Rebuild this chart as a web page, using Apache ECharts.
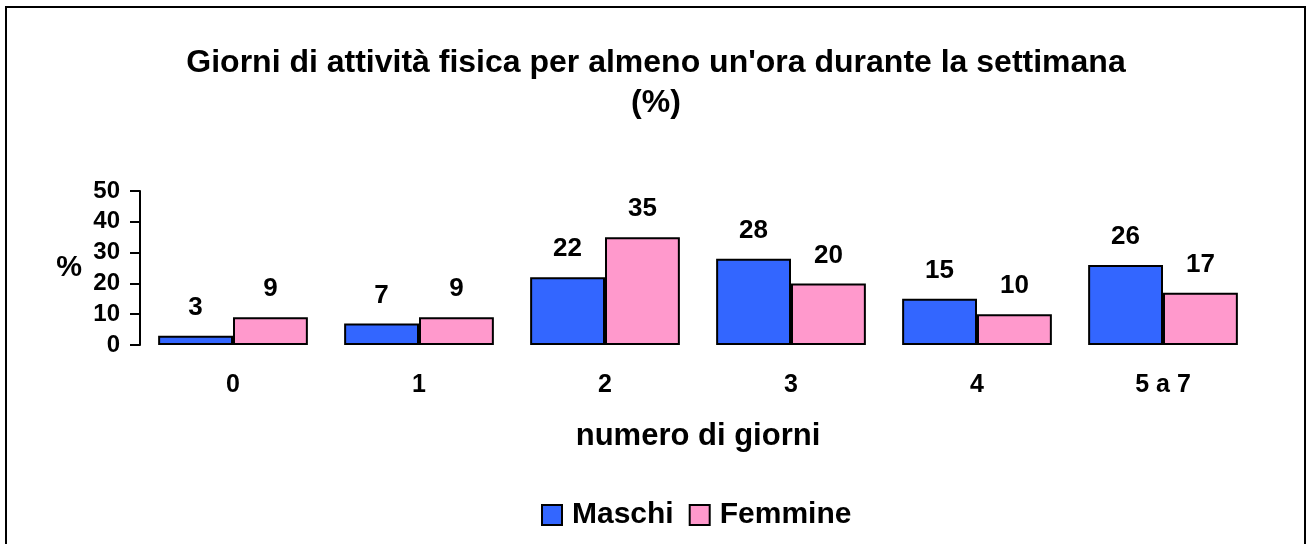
<!DOCTYPE html>
<html>
<head>
<meta charset="utf-8">
<script src="https://cdn.jsdelivr.net/npm/echarts@6/dist/echarts.min.js"></script>
<style>
html,body{margin:0;padding:0;background:#fff;}
#chart{width:1310px;height:544px;}
</style>
</head>
<body>
<div id="chart"></div>
<script>
var categories = ['0', '1', '2', '3', '4', '5 a 7'];
var maschi = [3, 7, 22, 28, 15, 26];
var femmine = [9, 9, 35, 20, 10, 17];
var yTicks = [0, 10, 20, 30, 40, 50];

var FONT = 'Arial, "Liberation Sans", Helvetica, sans-serif';
var chart = echarts.init(document.getElementById('chart'));
var labelCfg = {show: true, position: 'top', distance: 15, color: '#000', fontWeight: 'bold', fontSize: 26, fontFamily: FONT};
chart.setOption({
  backgroundColor: '#fff',
  animation: false,
  textStyle: {fontFamily: FONT},
  title: {
    text: "Giorni di attività fisica per almeno un'ora durante la settimana\n(%)",
    left: 651, top: 38, textAlign: 'center',
    textStyle: {fontSize: 32, fontWeight: 'bold', color: '#000', fontFamily: FONT, lineHeight: 40}
  },
  graphic: [{
    type: 'rect', shape: {x: 6, y: 7, width: 1299, height: 560},
    style: {fill: null, stroke: '#000', lineWidth: 2}, silent: true, z: 100
  }],
  legend: {
    data: ['Maschi', 'Femmine'],
    top: 495, left: 536, itemWidth: 20, itemHeight: 20, itemGap: 15, icon: 'rect',
    textStyle: {fontSize: 30, fontWeight: 'bold', color: '#000', fontFamily: FONT, padding: [0, 0, 0, 5]}
  },
  grid: {left: 140, right: 54, top: 191, bottom: 199, containLabel: false},
  xAxis: {
    type: 'category', data: categories,
    name: 'numero di giorni', nameLocation: 'middle', nameGap: 76,
    nameTextStyle: {fontSize: 31, fontWeight: 'bold', color: '#000', fontFamily: FONT},
    axisLine: {show: false}, axisTick: {show: false},
    axisLabel: {margin: 28, fontSize: 25, fontWeight: 'bold', color: '#000', fontFamily: FONT}
  },
  yAxis: {
    type: 'value', min: yTicks[0], max: yTicks[yTicks.length - 1], interval: 10,
    name: '%', nameLocation: 'middle', nameRotate: 0, nameGap: 58,
    nameTextStyle: {fontSize: 29, fontWeight: 'bold', color: '#000', fontFamily: FONT},
    axisLine: {show: true, lineStyle: {color: '#000', width: 2}},
    axisTick: {show: true, length: 10, lineStyle: {color: '#000', width: 2}},
    splitLine: {show: false},
    axisLabel: {margin: 20, fontSize: 24, fontWeight: 'bold', color: '#000', fontFamily: FONT}
  },
  series: [{
    name: 'Maschi', type: 'bar', data: maschi, barGap: '0%', barCategoryGap: '19.5%',
    itemStyle: {color: '#3366FF', borderColor: '#000', borderWidth: 2},
    label: labelCfg
  }, {
    name: 'Femmine', type: 'bar', data: femmine, barGap: '0%', barCategoryGap: '19.5%',
    itemStyle: {color: '#FF99CC', borderColor: '#000', borderWidth: 2},
    label: labelCfg
  }]
});
</script>
</body>
</html>
